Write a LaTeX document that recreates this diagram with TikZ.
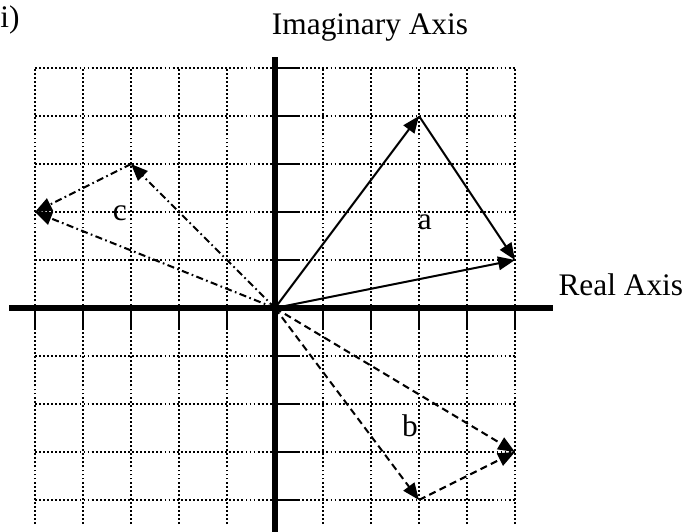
\documentclass[tikz,border=0pt]{standalone}
\usepackage{fontspec}
\setmainfont{Liberation Serif}
\usetikzlibrary{arrows.meta}

\tikzset{
  gridline/.style={line width=0.9pt, dash pattern=on 1.1pt off 1.3pt},
  axisline/.style={line width=3pt},
  tickline/.style={line width=1.2pt},
  vec/.style={line width=1.2pt, -{Triangle[length=10pt,width=8pt]}},
  vecb/.style={vec, dash pattern=on 4.2pt off 2.6pt},
  vecc/.style={vec, dash pattern=on 4.2pt off 2pt on 1pt off 2pt},
  lbl/.style={inner sep=0pt, font=\fontsize{18.6}{22}\selectfont}
}

\begin{document}
\begin{tikzpicture}
        \useasboundingbox (-5.729,-4.646) rectangle (8.667,6.417);

        % Draw grid
        \foreach \y in {-4,...,5}
            \draw[gridline] (-5,\y) -- (5,\y);
        \foreach \x in {-5,...,-1,1,2,3,4,5}
            \draw[gridline] (\x,-4.5) -- (\x,5);

        % Draw axes
        \draw[axisline] (-5.54,0) -- (5.79,0);
        \draw[axisline] (0,-4.66) -- (0,5.23);
        \foreach \x in {-5,...,-1,1,2,3,4,5}
            \draw[tickline] (\x,0) -- (\x,-0.45);
        \foreach \y in {-4,...,-1,1,2,3,4,5}
            \draw[tickline] (0,\y) -- (0.52,\y);

        % Points
        \coordinate (O) at (0,0);
        \coordinate (a1) at (3,4);
        \coordinate (a) at (5,1);
        \coordinate (b1) at (3,-4);
        \coordinate (b) at (5,-3);
        \coordinate (c1) at (-3,3);
        \coordinate (c) at (-5,2);

        % Vector a
        \draw[vec] (O) -- (a1);
        \draw[vec] (a1) -- (a);
        \draw[vec] (O) -- (a);

        % Vector b
        \draw[vecb] (O) -- (b1);
        \draw[vecb] (b1) -- (b);
        \draw[vecb] (O) -- (b);

        % Vector c
        \draw[vecc] (O) -- (c1);
        \draw[vecc] (c1) -- (c);
        \draw[vecc] (O) -- (c);

        % Add labels
        \node[lbl] (la) at (3.12,1.78) {a};
        \node[lbl] (lb) at (2.81,-2.46) {b};
        \node[lbl] (lc) at (-3.23,1.97) {c};
        \node[lbl, anchor=base] (imag) at (1.98,5.69) {Imaginary Axis};
        \node[lbl, anchor=base west] (real) at (5.9,0.27) {Real Axis};
        \node[lbl, anchor=base west] (part) at (-5.729,5.85) {i)};
    \end{tikzpicture}
\end{document}
